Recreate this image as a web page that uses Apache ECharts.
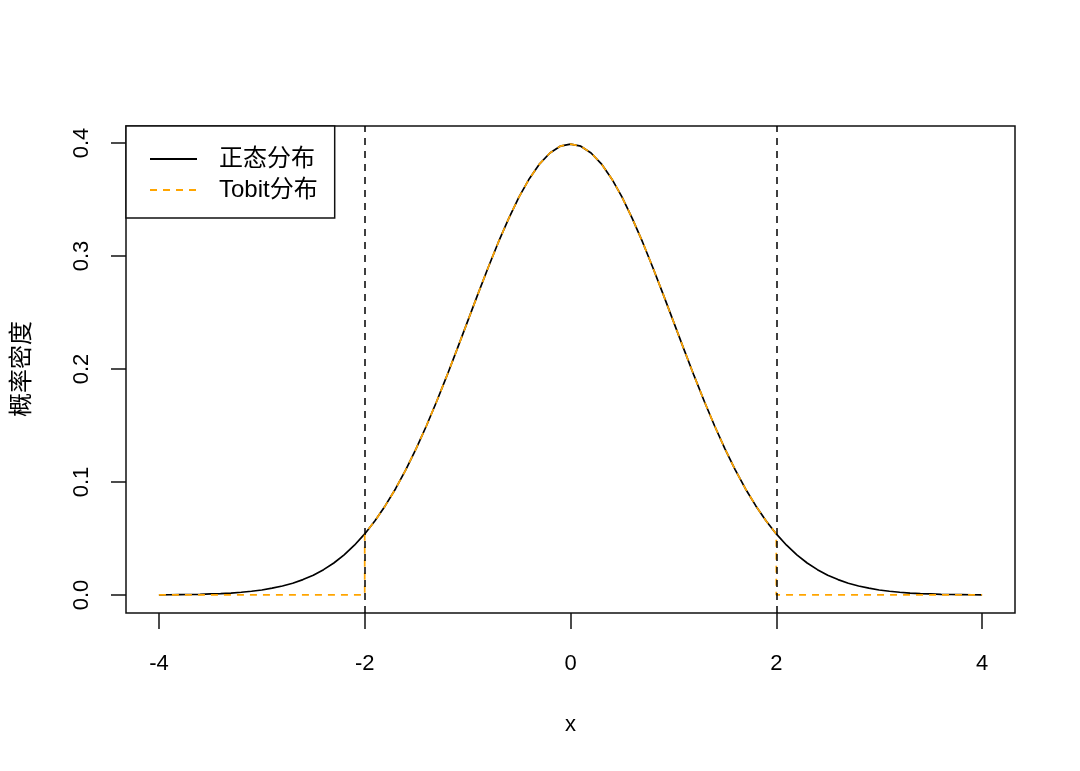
<!DOCTYPE html>
<html>
<head>
<meta charset="utf-8">
<script src="https://cdn.jsdelivr.net/npm/echarts@6/dist/echarts.min.js"></script>
<style>html,body{margin:0;padding:0;background:#fff}#c{width:1080px;height:771px}</style>
</head>
<body>
<div id="c"></div>
<script>
// x grid of the curves
const xs = [-4.0,-3.9,-3.8,-3.7,-3.6,-3.5,-3.4,-3.3,-3.2,-3.1,-3.0,-2.9,-2.8,-2.7,-2.6,-2.5,-2.4,-2.3,-2.2,-2.1,
  -2.0,-1.9,-1.8,-1.7,-1.6,-1.5,-1.4,-1.3,-1.2,-1.1,-1.0,-0.9,-0.8,-0.7,-0.6,-0.5,-0.4,-0.3,-0.2,-0.1,
  0.0,0.1,0.2,0.3,0.4,0.5,0.6,0.7,0.8,0.9,1.0,1.1,1.2,1.3,1.4,1.5,1.6,1.7,1.8,1.9,
  2.0,2.1,2.2,2.3,2.4,2.5,2.6,2.7,2.8,2.9,3.0,3.1,3.2,3.3,3.4,3.5,3.6,3.7,3.8,3.9,4.0];
// normal density (black solid)
const normalY = [0.0001,0.0002,0.0003,0.0004,0.0006,0.0009,0.0012,0.0017,0.0024,0.0033,0.0044,0.0060,0.0079,0.0104,0.0136,0.0175,0.0224,0.0283,0.0355,0.0440,
  0.0540,0.0656,0.0790,0.0940,0.1109,0.1295,0.1497,0.1714,0.1942,0.2179,0.2420,0.2661,0.2897,0.3123,0.3332,0.3521,0.3683,0.3814,0.3910,0.3970,
  0.3989,0.3970,0.3910,0.3814,0.3683,0.3521,0.3332,0.3123,0.2897,0.2661,0.2420,0.2179,0.1942,0.1714,0.1497,0.1295,0.1109,0.0940,0.0790,0.0656,
  0.0540,0.0440,0.0355,0.0283,0.0224,0.0175,0.0136,0.0104,0.0079,0.0060,0.0044,0.0033,0.0024,0.0017,0.0012,0.0009,0.0006,0.0004,0.0003,0.0002,0.0001];
// Tobit density (orange dashed): zero outside [-2, 2]
const tobitX = [-4.0,-2.0,-2.0,-1.9,-1.8,-1.7,-1.6,-1.5,-1.4,-1.3,-1.2,-1.1,-1.0,-0.9,-0.8,-0.7,-0.6,-0.5,-0.4,-0.3,-0.2,-0.1,
  0.0,0.1,0.2,0.3,0.4,0.5,0.6,0.7,0.8,0.9,1.0,1.1,1.2,1.3,1.4,1.5,1.6,1.7,1.8,1.9,2.0,2.0,4.0];
const tobitY = [0,0,0.0540,0.0656,0.0790,0.0940,0.1109,0.1295,0.1497,0.1714,0.1942,0.2179,0.2420,0.2661,0.2897,0.3123,0.3332,0.3521,0.3683,0.3814,0.3910,0.3970,
  0.3989,0.3970,0.3910,0.3814,0.3683,0.3521,0.3332,0.3123,0.2897,0.2661,0.2420,0.2179,0.1942,0.1714,0.1497,0.1295,0.1109,0.0940,0.0790,0.0656,0.0540,0,0];
// vertical reference lines
const vLines = [-2, 2];
// axis ticks
const xTicks = {min: -4, max: 4, interval: 2};
const yTicks = {min: 0, max: 0.4, interval: 0.1};
const seriesNames = ['正态分布', 'Tobit分布'];
const xTitle = 'x';
const yTitle = '概率密度';

const latin = 'Liberation Sans, Arial, sans-serif';
const cjk = '"Liberation Sans", "Noto Sans CJK SC", sans-serif';
const chart = echarts.init(document.getElementById('c'), null, {renderer: 'canvas'});
const dash = [7, 6];
chart.setOption({
  animation: false,
  backgroundColor: '#ffffff',
  grid: [
    {left: 126, right: 65, top: 126, bottom: 158, show: true, borderColor: '#111', borderWidth: 1.5, backgroundColor: 'transparent'},
    {left: 159, right: 98, top: 143, bottom: 176, show: false}
  ],
  xAxis: [
    {gridIndex: 0, type: 'value', min: -4.32, max: 4.32, show: false},
    {gridIndex: 1, type: 'value', min: xTicks.min, max: xTicks.max, interval: xTicks.interval, offset: 18,
     axisLine: {show: false, onZero: false}, splitLine: {show: false},
     axisTick: {show: true, length: 16, lineStyle: {color: '#111', width: 1.5}},
     axisLabel: {margin: 40, color: '#000', fontSize: 22, fontFamily: latin},
     name: xTitle, nameLocation: 'middle', nameGap: 101,
     nameTextStyle: {color: '#000', fontSize: 22, fontFamily: latin}}
  ],
  yAxis: [
    {gridIndex: 0, type: 'value', min: -0.01596, max: 0.41487, show: false},
    {gridIndex: 1, type: 'value', min: yTicks.min, max: yTicks.max, interval: yTicks.interval, offset: 33,
     axisLine: {show: false, onZero: false}, splitLine: {show: false},
     axisTick: {show: true, length: 15, lineStyle: {color: '#111', width: 1.5}},
     axisLabel: {margin: 33, rotate: 90, color: '#000', fontSize: 22, fontFamily: latin,
                 formatter: v => v.toFixed(1)},
     name: yTitle, nameLocation: 'middle', nameRotate: 90, nameGap: 92,
     nameTextStyle: {color: '#000', fontSize: 24, fontFamily: cjk}}
  ],
  legend: {
    left: 126, top: 126, orient: 'vertical',
    backgroundColor: '#fff', borderColor: '#111', borderWidth: 1.5,
    padding: [21, 17, 16, 23], itemWidth: 47, itemHeight: 14, itemGap: 7,
    itemStyle: {opacity: 0, borderWidth: 0},
    textStyle: {color: '#000', fontSize: 24, fontFamily: cjk, padding: [0, 0, 0, 17]},
    data: seriesNames
  },
  series: [
    {name: seriesNames[0], type: 'line', xAxisIndex: 0, yAxisIndex: 0, symbol: 'none', silent: true,
     data: xs.map((x, i) => [x, normalY[i]]),
     lineStyle: {color: '#000', width: 1.7}, itemStyle: {color: '#000'},
     markLine: {silent: true, symbol: ['none', 'none'], label: {show: false},
                lineStyle: {color: '#000', width: 1.5, type: dash},
                data: vLines.map(v => ({xAxis: v}))}},
    {name: seriesNames[1], type: 'line', xAxisIndex: 0, yAxisIndex: 0, symbol: 'none', silent: true,
     data: tobitX.map((x, i) => [x, tobitY[i]]),
     lineStyle: {color: '#FFA500', width: 1.7, type: dash}, itemStyle: {color: '#FFA500'}}
  ]
});
</script>
</body>
</html>
